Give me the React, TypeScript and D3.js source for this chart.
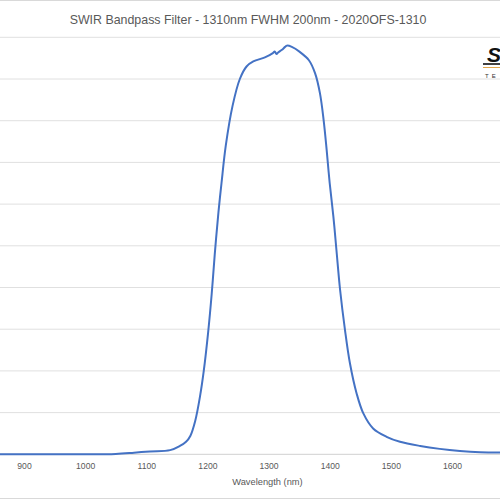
import { useEffect, useRef } from "react"
import * as d3 from "d3"

const title = "SWIR Bandpass Filter - 1310nm FWHM 200nm - 2020OFS-1310"
const xAxisTitle = "Wavelength (nm)"
const xTicks = [900, 1000, 1100, 1200, 1300, 1400, 1500, 1600]
const yGrid = [10, 20, 30, 40, 50, 60, 70, 80, 90, 100]

// wavelength (nm) and transmission (%)
const wavelengths = [
  855, 900, 950, 1000, 1050, 1080, 1106, 1139, 1155, 1165, 1172, 1180, 1188, 1194,
  1201, 1207, 1212, 1218, 1223, 1230, 1241, 1253, 1264, 1275, 1294, 1307, 1310,
  1313, 1316, 1322, 1327, 1330, 1338, 1351, 1366, 1376, 1384, 1390, 1395, 1400,
  1406, 1411, 1417, 1425, 1433, 1444, 1455, 1471, 1493, 1515, 1548, 1580,
  1613, 1646, 1685,
]
const transmission = [
  0, 0, 0, 0, 0.1, 0.4, 0.7, 1.0, 2.0, 3.0, 4.4, 8, 14, 20,
  29, 38.5, 48, 58, 65, 74, 83.5, 90, 93, 94.2, 95.2, 96.2, 96.6,
  96.0, 96.4, 97.0, 97.7, 98.0, 97.7, 96.5, 94.5, 91.4, 86.6, 80.2, 73, 65,
  57, 49, 39.4, 29.8, 21.9, 14.6, 9.8, 6.2, 4.2, 3.0, 2.0, 1.3,
  0.8, 0.5, 0.4,
]

const width = 500
const height = 500
const marginTop = 37.3
const marginBottom = 45.7

const App = () => {
  const svgRef = useRef(null)

  useEffect(() => {
    const svg = d3.select(svgRef.current)
    svg.selectAll("*").remove()

    const x = d3.scaleLinear().domain([900, 1600]).range([24, 452])
    const y = d3.scaleLinear().domain([0, 100]).range([height - marginBottom, marginTop])

    // background + chart frame
    svg.append("rect").attr("width", width).attr("height", height).attr("fill", "#fff")
    svg.append("g")
        .attr("stroke", "#d9d9d9")
      .selectAll("line")
      .data([0.5, height - 1.5])
      .join("line")
        .attr("x1", 0)
        .attr("x2", width)
        .attr("y1", d => d)
        .attr("y2", d => d)

    // title
    svg.append("text")
      .attr("x", 248)
      .attr("y", 23.5)
      .attr("text-anchor", "middle")
      .attr("font-family", "'Liberation Sans', Arial, sans-serif")
      .attr("font-size", 12.4)
      .attr("fill", "#595959")
      .text(title)

    // gridlines
    svg.append("g")
        .attr("stroke", "#e0e0e0")
        .attr("stroke-width", 1)
      .selectAll("line")
      .data(yGrid)
      .join("line")
        .attr("x1", 0)
        .attr("x2", width)
        .attr("y1", d => y(d))
        .attr("y2", d => y(d))

    // x axis
    const xAxis = (g) => g
      .attr("transform", `translate(0,${y(0)})`)
      .call(d3.axisBottom(x).tickValues(xTicks).tickSize(0).tickPadding(9).tickFormat(d3.format("d")))
      .call(g => g.select(".domain").remove())
      .call(g => g.selectAll("text")
        .attr("fill", "#595959")
        .attr("font-size", 8.6)
        .attr("font-family", "'Liberation Sans', Arial, sans-serif"))

    svg.append("g").call(xAxis)

    svg.append("line")
      .attr("x1", 0)
      .attr("x2", width)
      .attr("y1", y(0))
      .attr("y2", y(0))
      .attr("stroke", "#d9d9d9")
      .attr("stroke-width", 1.3)

    svg.append("text")
      .attr("x", 267.5)
      .attr("y", 484.5)
      .attr("text-anchor", "middle")
      .attr("font-family", "'Liberation Sans', Arial, sans-serif")
      .attr("font-size", 9.3)
      .attr("fill", "#595959")
      .text(xAxisTitle)

    // transmission curve (smoothed like Excel)
    const line = d3.line()
      .x(i => x(wavelengths[i]))
      .y(i => y(transmission[i]))
      .curve(d3.curveCatmullRom.alpha(0.5))

    svg.append("path")
      .attr("d", line(d3.range(wavelengths.length)))
      .attr("fill", "none")
      .attr("stroke", "#4472c4")
      .attr("stroke-width", 2)
      .attr("stroke-linejoin", "round")

    // logo, cut off at the right edge
    const logo = svg.append("g")
    logo.append("text")
      .attr("x", 487)
      .attr("y", 62)
      .attr("font-family", "'Liberation Sans', Arial, sans-serif")
      .attr("font-weight", "bold")
      .attr("font-style", "italic")
      .attr("font-size", 21)
      .attr("fill", "#111")
      .text("S")
    logo.append("line")
      .attr("x1", 483).attr("x2", width).attr("y1", 64).attr("y2", 64)
      .attr("stroke", "#111").attr("stroke-width", 1.6)
    logo.append("line")
      .attr("x1", 483).attr("x2", width).attr("y1", 67.5).attr("y2", 67.5)
      .attr("stroke", "#e3a64a").attr("stroke-width", 1)
    logo.append("text")
      .attr("x", 485)
      .attr("y", 78)
      .attr("font-family", "'Liberation Sans', Arial, sans-serif")
      .attr("font-size", 6)
      .attr("letter-spacing", 3)
      .attr("fill", "#333")
      .text("TE")
  }, [])

  return (
    <svg
      ref={svgRef}
      width={width}
      height={height}
      style={{ position: "absolute", left: 0, top: 0, display: "block" }}
    />
  )
}

export default App
